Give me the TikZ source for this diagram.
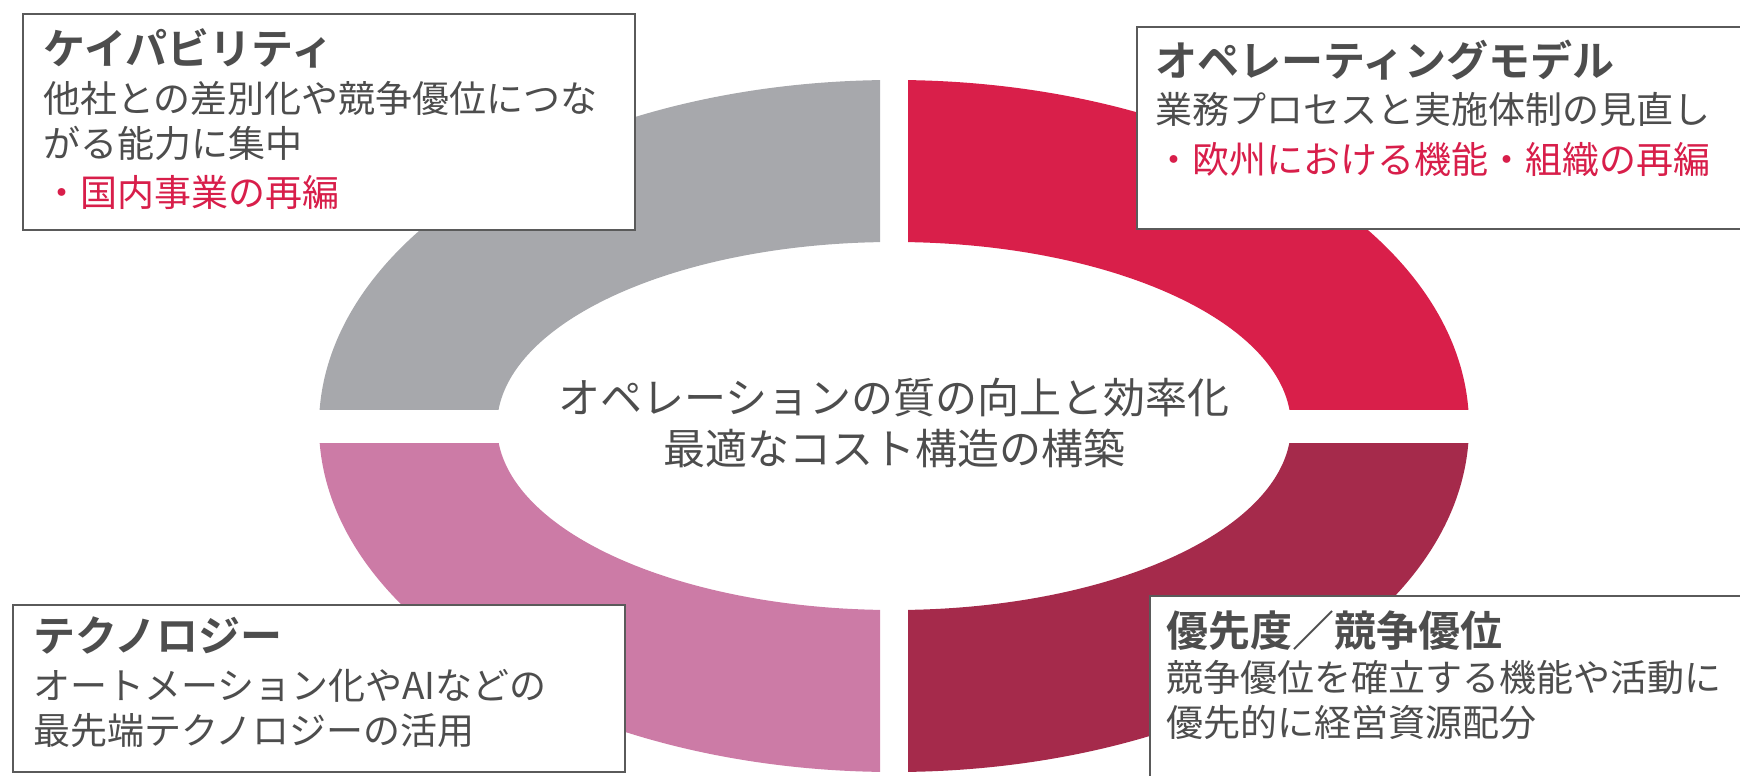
\documentclass[tikz,border=0pt]{standalone}
\usepackage{fontspec}
\setmainfont{Noto Sans CJK JP}[BoldFont={Noto Sans CJK JP Bold}]

\definecolor{ringgray}{HTML}{A7A8AC}
\definecolor{ringred}{HTML}{D91F4A}
\definecolor{ringwine}{HTML}{A52A4B}
\definecolor{ringpink}{HTML}{CC7BA6}
\definecolor{textgray}{HTML}{4D4D4D}
\definecolor{textred}{HTML}{D81E4A}
\definecolor{boxgray}{HTML}{5A5A5A}

\newcommand{\boxtitle}[1]{{\bfseries\fontsize{42}{45}\selectfont #1}}

\tikzset{
  sector/.style={even odd rule},
  infobox/.style={draw=boxgray, line width=2pt, fill=white, anchor=north west, inner sep=0pt},
  infotext/.style={anchor=north west, align=left, inner sep=0pt, text=textgray, font=\fontsize{37}{45}\selectfont},
}

\begin{document}
\begin{tikzpicture}[x=1pt,y=-1pt]
\clip (0,0) rectangle (1740,776);

%1
\begin{scope}
\clip (0,0) rectangle (880,409);
\fill[ringgray,sector] (894,426) ellipse [x radius=575, y radius=346] (894,426) ellipse [x radius=397, y radius=184];
\end{scope}

%2
\begin{scope}
\clip (908,0) rectangle (1740,409);
\fill[ringred,sector] (894,426) ellipse [x radius=575, y radius=346] (894,426) ellipse [x radius=397, y radius=184];
\end{scope}

%3
\begin{scope}
\clip (0,443) rectangle (880,776);
\fill[ringpink,sector] (894,426) ellipse [x radius=575, y radius=346] (894,426) ellipse [x radius=397, y radius=184];
\end{scope}

%4
\begin{scope}
\clip (908,443) rectangle (1740,776);
\fill[ringwine,sector] (894,426) ellipse [x radius=575, y radius=346] (894,426) ellipse [x radius=397, y radius=184];
\end{scope}

\node[infobox, minimum width=612, minimum height=216] (capbox) at (22,13) {};
\node[infotext] (captext) at (43,28) {\boxtitle{ケイパビリティ}\\[3pt]
他社との差別化や競争優位につな\\
がる能力に集中\\[4pt]
\textcolor{textred}{・国内事業の再編}};

\node[infobox, minimum width=640, minimum height=202] (opbox) at (1136,26) {};
\node[infotext] (optext) at (1155,40) {\boxtitle{オペレーティングモデル}\\[2pt]
業務プロセスと実施体制の見直し\\[5pt]
\textcolor{textred}{・欧州における機能・組織の再編}};

\node[infobox, minimum width=612, minimum height=167] (techbox) at (12,604) {};
\node[infotext] (techtext) at (33,617) {\boxtitle{テクノロジー}\\[3pt]
オートメーション化やAIなどの\\
最先端テクノロジーの活用};

\node[infobox, minimum width=620, minimum height=200] (prbox) at (1149,595) {};
\node[infotext] (prtext) at (1166,611) {\boxtitle{優先度／競争優位}\\
競争優位を確立する機能や活動に\\
優先的に経営資源配分};

\node[align=center, inner sep=0pt, text=textgray, font=\fontsize{42}{51}\selectfont] (goal) at (894,423) {オペレーションの質の向上と効率化\\最適なコスト構造の構築};
\end{tikzpicture}
\end{document}
